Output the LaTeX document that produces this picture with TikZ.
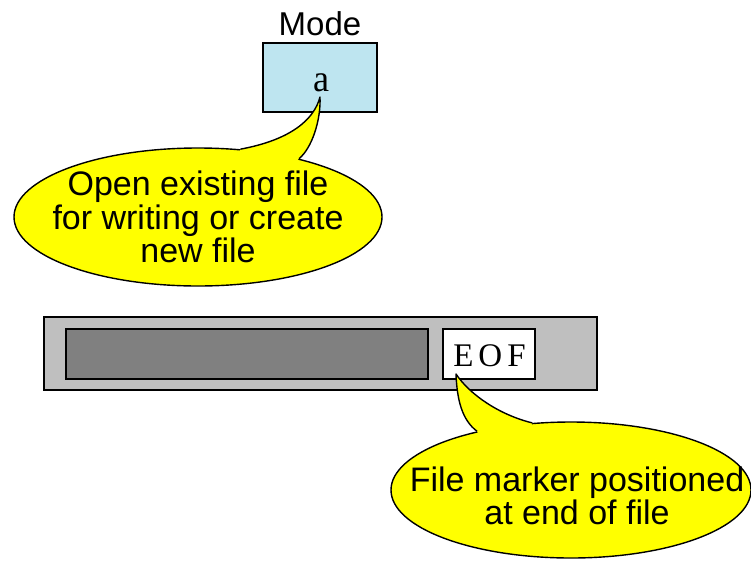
\documentclass[tikz,border=0pt]{standalone}
\usepackage{fontspec}
\setmainfont{Liberation Serif}
\newfontfamily\helv{Liberation Sans}
\usetikzlibrary{shapes.geometric}
\definecolor{modeblue}{RGB}{190,229,240}
\definecolor{barlight}{RGB}{191,191,191}
\definecolor{bardark}{RGB}{128,128,128}
\definecolor{calloutyellow}{RGB}{255,255,0}

\begin{document}
\begin{tikzpicture}[x=1pt,y=-1pt,
  box/.style={draw=black, line width=2pt, inner sep=0pt, outer sep=0pt},
  bubble/.style={ellipse, draw=black, line width=1.4pt, fill=calloutyellow, inner sep=0pt},
  bubbletext/.style={font=\helv\fontsize{34}{33.6}\selectfont, align=center, inner sep=0pt},
  tailfill/.style={fill=calloutyellow},
  tailline/.style={draw=black, line width=1.4pt, line join=round},
]
\useasboundingbox (0,0) rectangle (751,560);

% mode box with its label
\node[box, fill=modeblue, minimum width=114pt, minimum height=69pt] (mode) at (320,77.5) {};
\node[font=\fontsize{38}{38}\selectfont, anchor=base, inner sep=0pt, xscale=0.95] (modeval) at (321.3,91) {a};
\node[font=\helv\fontsize{33}{33}\selectfont, anchor=base, inner sep=0pt] (modelabel) at (320,35) {Mode};

% file bar: data area and end-of-file marker
\node[box, fill=barlight, minimum width=553pt, minimum height=73pt] (bar) at (320,353.3) {};
\node[box, fill=bardark, minimum width=362pt, minimum height=50pt] (data) at (247,354) {};
\node[box, fill=white, minimum width=92pt, minimum height=50pt] (eof) at (489,354) {};
\node[font=\fontsize{33}{33}\selectfont, anchor=base, inner sep=0pt] (eoftext) at (489.5,366.7) {E\kern5pt O\kern5pt F};

% callout bubbles
\node[bubble, minimum width=368pt, minimum height=138pt] (c1) at (198,217) {};
\node[bubble, minimum width=360pt, minimum height=136pt] (c2) at (571,490) {};

% callout tails
\coordinate (tip1) at (320,97);
\coordinate (tip2) at (456,374);
\fill[tailfill] (c1.58) .. controls (290,140) and (314,120) .. (tip1)
  .. controls (321,120) and (312,148) .. (c1.30) -- (280,178) -- (235,170) -- cycle;
\draw[tailline] (c1.58) .. controls (290,140) and (314,120) .. (tip1)
  .. controls (321,120) and (312,148) .. (c1.30);
\fill[tailfill] (c2.148) .. controls (462,420) and (457,400) .. (tip2)
  .. controls (470,395) and (500,415) .. (c2.120) -- (525,445) -- (485,448) -- cycle;
\draw[tailline] (c2.148) .. controls (462,420) and (457,400) .. (tip2)
  .. controls (470,395) and (500,415) .. (c2.120);

% callout texts
\node[bubbletext] (t1) at (198,217) {Open existing file\\for writing or create\\new file};
\node[bubbletext] (t2) at (577,496) {File marker positioned\\at end of file};
\end{tikzpicture}
\end{document}
